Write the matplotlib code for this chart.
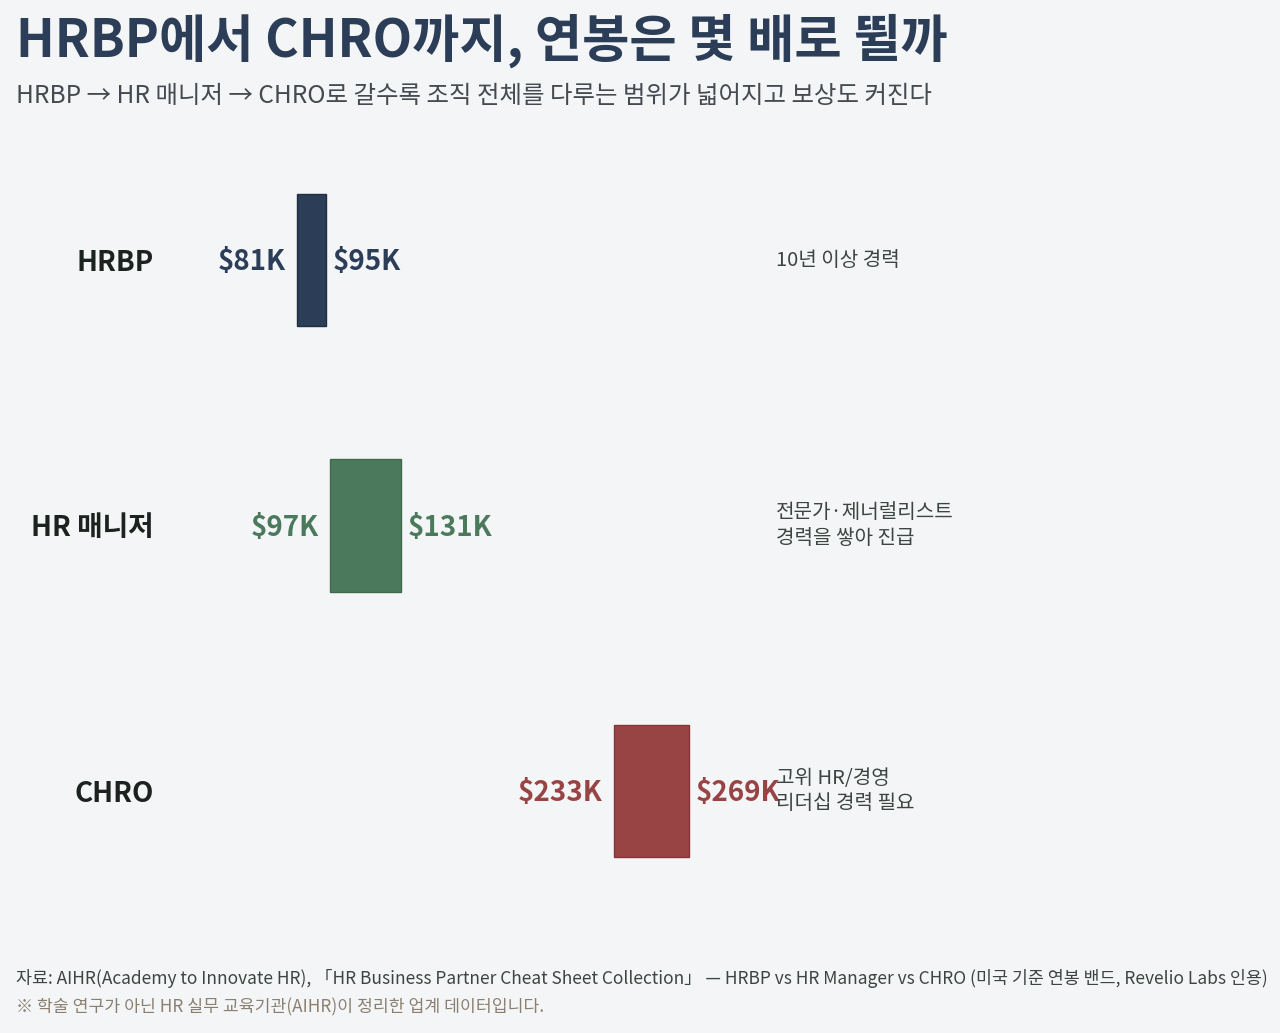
import matplotlib
matplotlib.use("Agg")
import matplotlib.pyplot as plt

plt.rcParams['font.family'] = ['Noto Sans CJK KR', 'DejaVu Sans']

# Data: annual salary bands (US, thousand USD)
roles = ['HRBP', 'HR 매니저', 'CHRO']
low = [81, 97, 233]
high = [95, 131, 269]
notes = ['10년 이상 경력',
         '전문가·제너럴리스트\n경력을 쌓아 진급',
         '고위 HR/경영\n리더십 경력 필요']
colors = ['#2b3d57', '#4a7a5b', '#994444']
edges = ['#1f2e44', '#3f6a4e', '#843636']

title = 'HRBP에서 CHRO까지, 연봉은 몇 배로 뛸까'
subtitle = 'HRBP → HR 매니저 → CHRO로 갈수록 조직 전체를 다루는 범위가 넓어지고 보상도 커진다'
source = ('자료: AIHR(Academy to Innovate HR), 「HR Business Partner Cheat Sheet Collection」 '
          '— HRBP vs HR Manager vs CHRO (미국 기준 연봉 밴드, Revelio Labs 인용)')
footnote = '※ 학술 연구가 아닌 HR 실무 교육기관(AIHR)이 정리한 업계 데이터입니다.'

bg = '#f4f5f7'
fig = plt.figure(figsize=(12.8, 10.33), dpi=100, facecolor=bg)
ax = fig.add_axes([0, 0, 1, 1])
ax.set_facecolor('none')

ypos = list(range(len(roles)))
for i in ypos:
    ax.barh(i, high[i] - low[i], left=low[i], height=0.5,
            color=colors[i], edgecolor=edges[i], linewidth=1)
    ax.annotate(f'${low[i]}K', (low[i], i), xytext=(-8, -1.5), textcoords='offset points',
                ha='right', va='center', fontsize=20, fontweight='bold', color=colors[i])
    ax.annotate(f'${high[i]}K', (high[i], i), xytext=(5, -1.5), textcoords='offset points',
                ha='left', va='center', fontsize=20, fontweight='bold', color=colors[i])

# x pixel = 128 + 2.085 * value ; y centers at 260, 525, 791 px from top
ax.set_xlim(-128 / 2.085, (1280 - 128) / 2.085)
ax.set_ylim((1033 - 260) / 265.5, -260 / 265.5)
ax.axis('off')

for i in ypos:
    yf = 1 - (263 + 265.5 * i) / 1033
    fig.text(154 / 1280, yf, roles[i], ha='right', va='center',
             fontsize=20, fontweight='bold', color='#1c221e')
    fig.text(776 / 1280, 1 - (260 + 265.5 * i) / 1033, notes[i], ha='left', va='center',
             fontsize=14.5, color='#3d4540', linespacing=1.3)

fig.text(16 / 1280, 1 - 41 / 1033, title, ha='left', va='center',
         fontsize=37, fontweight='bold', color='#2b3d57')
fig.text(16 / 1280, 1 - 96 / 1033, subtitle, ha='left', va='center',
         fontsize=17.6, color='#444a4f')
fig.text(16 / 1280, 1 - 978 / 1033, source, ha='left', va='center',
         fontsize=12.5, color='#3d4540')
fig.text(16 / 1280, 1 - 1007 / 1033, footnote, ha='left', va='center',
         fontsize=12.4, color='#8b8070')

fig.savefig('out.png', dpi=100, facecolor=bg)
